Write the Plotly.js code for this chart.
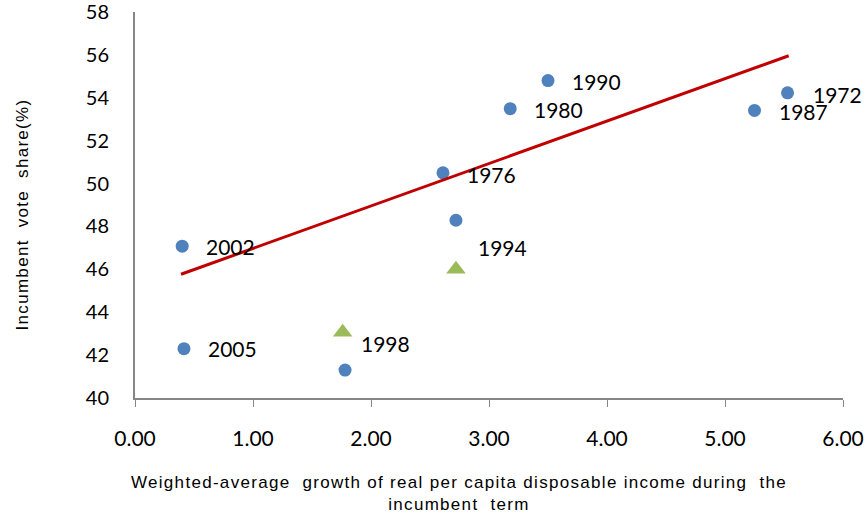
<!DOCTYPE html>
<html>
<head>
<meta charset="utf-8">
<script src="https://cdn.plot.ly/plotly-3.0.1.min.js"></script>
<style>
html,body{margin:0;padding:0;background:#fff;}
#chart{width:867px;height:523px;}
text[style*="Liberation Sans"]{letter-spacing:1.3px;}
</style>
</head>
<body>
<div id="chart"></div>
<script>
// Data
const circleYears = ['1972', '1976', '1980', '1987', '1990', '1994', '1998', '2002', '2005'];
const circleX = [5.53, 2.61, 3.18, 5.25, 3.50, 2.72, 1.78, 0.40, 0.415];
const circleY = [54.23, 50.50, 53.49, 53.41, 54.80, 48.29, 41.30, 47.08, 42.30];

const triangleYears = ['1994', '1998'];
const triangleX = [2.72, 1.76];
const triangleY = [46.00, 43.07];

const trendX = [0.39, 5.54];
const trendY = [45.77, 55.96];

const xTickVals = [0, 1, 2, 3, 4, 5, 6];
const xTickText = ['0.00', '1.00', '2.00', '3.00', '4.00', '5.00', '6.00'];
const yTickVals = [40, 42, 44, 46, 48, 50, 52, 54, 56, 58];

// label offsets in pixels (style/position, not data)
const circleLabelShift = {
  '1972': [23, -2], '1976': [22, -2], '1980': [22, -1], '1987': [22, -1],
  '1990': [22, -1], '2002': [22, 0], '2005': [22, 0]
};
const triangleLabelShift = { '1994': [20, 22], '1998': [16, -11] };

const labelFont = { family: 'Lato, "Open Sans", sans-serif', size: 21, color: '#000' };
const annotations = [];
circleYears.forEach((yr, i) => {
  const s = circleLabelShift[yr];
  if (!s) return;
  annotations.push({ x: circleX[i], y: circleY[i], xref: 'x', yref: 'y', text: yr, showarrow: false,
    xanchor: 'left', yanchor: 'middle', xshift: s[0], yshift: s[1], font: labelFont });
});
triangleYears.forEach((yr, i) => {
  const s = triangleLabelShift[yr];
  annotations.push({ x: triangleX[i], y: triangleY[i], xref: 'x', yref: 'y', text: yr, showarrow: false,
    xanchor: 'left', yanchor: 'middle', xshift: s[0], yshift: s[1], font: labelFont });
});
const titleFont = { family: '"Liberation Sans", Arial, sans-serif', size: 17, color: '#000' };
annotations.push({ xref: 'paper', yref: 'paper', x: 0.458, y: -0.247, xanchor: 'center', yanchor: 'middle',
  showarrow: false, align: 'center', font: titleFont,
  text: 'Weighted-average\u00a0 growth of real per capita disposable income during\u00a0 the<br>incumbent\u00a0 term' });
annotations.push({ xref: 'paper', yref: 'paper', x: -0.1596, y: 0.4756, xanchor: 'center', yanchor: 'middle',
  showarrow: false, textangle: -90, font: titleFont,
  text: 'Incumbent\u00a0 vote\u00a0 share(%)' });

const traces = [
  { type: 'scatter', mode: 'markers', x: circleX, y: circleY, text: circleYears,
    marker: { symbol: 'circle', size: 13, color: '#4F81BD' }, cliponaxis: false },
  { type: 'scatter', mode: 'markers', x: triangleX, y: triangleY, text: triangleYears,
    marker: { symbol: 'triangle-up', size: 17, color: '#9BBB59' }, cliponaxis: false },
  { type: 'scatter', mode: 'lines', x: trendX, y: trendY,
    line: { color: '#C00000', width: 3 } }
];

const layout = {
  width: 867, height: 523,
  margin: { l: 135, r: 24, t: 12, b: 125 },
  paper_bgcolor: '#fff', plot_bgcolor: '#fff',
  showlegend: false,
  xaxis: {
    range: [0, 6], tickvals: xTickVals, ticktext: xTickText,
    showgrid: false, zeroline: false, showline: true, linecolor: '#868686', linewidth: 2,
    ticks: 'outside', ticklen: 7, tickcolor: '#868686', tickwidth: 1,
    ticklabelstandoff: 14,
    tickfont: { family: 'Lato, "Open Sans", sans-serif', size: 21, color: '#000' }
  },
  yaxis: {
    range: [40, 58.0001], tickvals: yTickVals,
    showgrid: false, zeroline: false, showline: true, linecolor: '#868686', linewidth: 2,
    ticks: '', ticklabelstandoff: 20, ticklabeloverflow: 'allow',
    tickfont: { family: 'Lato, "Open Sans", sans-serif', size: 20, color: '#000' }
  },
  annotations: annotations
};

Plotly.newPlot('chart', traces, layout, { displayModeBar: false, staticPlot: true });
</script>
</body>
</html>
